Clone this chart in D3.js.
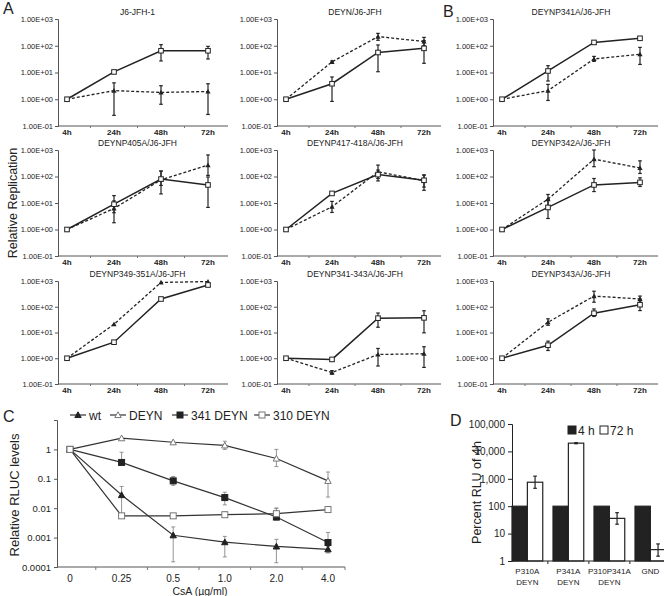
<!DOCTYPE html>
<html><head><meta charset="utf-8">
<script src="https://cdn.jsdelivr.net/npm/d3@7/dist/d3.min.js"></script>
<style>
body{margin:0;background:#fff;}
svg{display:block;font-family:"Liberation Sans",Arial,sans-serif;}
</style></head>
<body>
<svg id="c" width="664" height="596"></svg>
<script>
// ---------------- DATA ----------------
const timeLabels = ["4h","24h","48h","72h"];
const panelTitles = ["J6-JFH-1","DEYN/J6-JFH","DEYNP341A/J6-JFH","DEYNP405A/J6-JFH","DEYNP417-418A/J6-JFH","DEYNP342A/J6-JFH","DEYNP349-351A/J6-JFH","DEYNP341-343A/J6-JFH","DEYNP343A/J6-JFH"];
const yTickValuesAB = [0.1,1,10,100,1000];
const yTickLabelsAB = ["1.00E-01","1.00E+00","1.00E+01","1.00E+02","1.00E+03"];

const solidValues = [
 [1,10.5,65,65],[1,3.8,56,80],[1,11.4,133,190],
 [1,9,80,48],[1,23,118,72],[1,6.8,48,60],
 [1,4.2,200,700],[1,0.9,36,37],[1,3.2,56,120]];
const solidErrHigh = [
 [null,11.5,110,95],[null,6.8,107,155],[null,18,150,210],
 [null,19,160,96],[null,25,175,112],[null,13.5,84,89],
 [null,null,null,null],[null,1.0,57,70],[null,4.6,82,200]];
const solidErrLow = [
 [null,9.5,27,32],[null,0.83,10.7,22],[null,4.8,118,175],
 [null,4.3,22,6.8],[null,21,68,30],[null,2.6,27,42],
 [null,null,null,null],[null,0.8,16,9.7],[null,2,42,71]];
const dashedValues = [
 [1,2.1,1.8,1.95],[1,25,220,145],[1,2.1,32,48],
 [1,6.2,75,270],[1,7.2,150,70],[1,14,450,210],
 [1,21,880,950],[1,0.28,1.4,1.5],[1,25,260,200]];
const dashedErrHigh = [
 [null,4.1,3.2,3.8],[null,27,290,205],[null,3.6,40,87],
 [null,12,160,650],[null,11.5,270,115],[null,21,1000,390],
 [null,null,null,null],[null,0.33,2.4,2.8],[null,34,400,260]];
const dashedErrLow = [
 [null,0.25,0.65,0.27],[null,23,160,100],[null,0.9,26,20],
 [null,1.8,46,110],[null,4.4,84,40],[null,6.6,235,130],
 [null,null,null,null],[null,0.24,0.5,0.44],[null,19,150,150]];

// Panel C
const doseLabels = ["0","0.25","0.5","1.0","2.0","4.0"];
const cSeriesNames = ["wt","DEYN","341 DEYN","310 DEYN"];
const wtValues   = [1,0.028,0.0012,0.0007,0.0005,0.0004];
const wtErrHigh  = [null,0.055,0.0023,0.0011,0.00087,0.0005];
const wtErrLow   = [null,0.005,0.00015,0.00022,0.00014,0.0003];
const deynValues = [1,2.4,1.75,1.37,0.49,0.085];
const deynErrHigh= [null,null,null,1.9,1.0,0.17];
const deynErrLow = [null,null,null,1.0,0.26,0.024];
const d341Values = [1,0.36,0.085,0.023,0.005,0.00068];
const d341ErrHigh= [null,0.8,0.12,0.035,0.01,0.0015];
const d341ErrLow = [null,0.36,0.06,0.013,0.004,0.0004];
const d310Values = [1,0.0055,0.0055,0.006,0.0065,0.009];
const d310ErrHigh= [null,null,null,0.0075,0.01,0.011];
const d310ErrLow = [null,null,null,0.005,0.004,0.0075];
const cYTicks = [0.0001,0.001,0.01,0.1,1];
const cYTickLabels = ["0.0001","0.001","0.01","0.1","1"];

// Panel D
const dGroups = ["P310A DEYN","P341A DEYN","P310P341A DEYN","GND"];
const dGroupLines = [["P310A","DEYN"],["P341A","DEYN"],["P310P341A","DEYN"],["GND"]];
const dSeries = ["4 h","72 h"];
const h4Values = [100,100,100,100];
const h72Values = [750,20000,36,2.6];
const h72ErrHigh = [1250,21000,58,4.2];
const h72ErrLow = [450,19000,22,1.5];
const dYTicks = [1,10,100,1000,10000,100000];

// ---------------- LAYOUT ----------------
const svg = d3.select("#c");
const ink = "#222";
const rows = [{top:19,bot:126},{top:150,bot:256},{top:281,bot:384}];
const cols = [{ax:58,x0:67,x1:208,end:228},{ax:277,x0:286,x1:424,end:441},{ax:493,x0:502,x1:640,end:658}];

function triPath(cx,cy,s){return `M${cx},${cy-s}L${cx+s},${cy+s*0.8}L${cx-s},${cy+s*0.8}Z`;}

function errBar(g,x,yHi,yLo,cap,color,w){
  g.append("line").attr("x1",x).attr("x2",x).attr("y1",yHi).attr("y2",yLo).attr("stroke",color).attr("stroke-width",w);
  g.append("line").attr("x1",x-cap).attr("x2",x+cap).attr("y1",yHi).attr("y2",yHi).attr("stroke",color).attr("stroke-width",w);
  g.append("line").attr("x1",x-cap).attr("x2",x+cap).attr("y1",yLo).attr("y2",yLo).attr("stroke",color).attr("stroke-width",w);
}

panelTitles.forEach((title,i)=>{
  const r = rows[Math.floor(i/3)], c = cols[i%3];
  const g = svg.append("g");
  const x = d3.scalePoint().domain(timeLabels).range([c.x0,c.x1]);
  const y = d3.scaleLog().domain([0.1,1000]).range([r.bot,r.top]);
  const ya = d3.axisLeft(y).tickValues(yTickValuesAB).tickFormat((d,k)=>yTickLabelsAB[k]).tickSize(3).tickPadding(2);
  const yg = g.append("g").attr("transform",`translate(${c.ax},0)`).call(ya);
  yg.select(".domain").attr("stroke","#555");
  yg.selectAll(".tick line").attr("stroke","#555");
  yg.selectAll("text").attr("font-size",7.5).attr("fill",ink);
  g.append("line").attr("x1",c.ax).attr("x2",c.end).attr("y1",r.bot).attr("y2",r.bot).attr("stroke","#555");
  timeLabels.forEach((t,k)=>{
    g.append("text").attr("x",x(t)).attr("y",r.bot+9).attr("text-anchor","middle").attr("font-size",8).attr("fill",ink).attr("font-weight","bold").text(t);
    if(k<3){const mx=(x(t)+x(timeLabels[k+1]))/2;
      g.append("line").attr("x1",mx).attr("x2",mx).attr("y1",r.bot).attr("y2",r.bot+2).attr("stroke","#777");}
  });
  g.append("text").attr("x",(c.x0+c.x1)/2).attr("y",r.top-4).attr("text-anchor","middle").attr("font-size",8.5).attr("fill",ink).text(title);
  const line = d3.line().x((d,k)=>x(timeLabels[k])).y(d=>y(d));
  g.append("path").attr("d",line(dashedValues[i])).attr("fill","none").attr("stroke",ink).attr("stroke-width",1.3).attr("stroke-dasharray","3,2");
  g.append("path").attr("d",line(solidValues[i])).attr("fill","none").attr("stroke",ink).attr("stroke-width",1.5);
  timeLabels.forEach((t,k)=>{
    if(dashedErrHigh[i][k]!=null) errBar(g,x(t),y(dashedErrHigh[i][k]),y(dashedErrLow[i][k]),1.8,ink,1.2);
    if(solidErrHigh[i][k]!=null) errBar(g,x(t),y(solidErrHigh[i][k]),y(solidErrLow[i][k]),1.8,ink,1.2);
  });
  dashedValues[i].forEach((v,k)=>{
    g.append("path").attr("d",triPath(x(timeLabels[k]),y(v),2.6)).attr("fill",ink);
  });
  solidValues[i].forEach((v,k)=>{
    g.append("rect").attr("x",x(timeLabels[k])-2.3).attr("y",y(v)-2.3).attr("width",4.6).attr("height",4.6).attr("fill","#fff").attr("stroke",ink).attr("stroke-width",1);
  });
});

[["A",3,14],["B",443,17],["C",3,422],["D",450,426]].forEach(([t,lx,ly])=>{
  svg.append("text").attr("x",lx).attr("y",ly).attr("font-size",16).attr("fill",ink).text(t);
});
svg.append("text").attr("transform","translate(17,203) rotate(-90)").attr("text-anchor","middle").attr("font-size",12.5).attr("fill",ink).text("Relative Replication");

// ---------------- PANEL C ----------------
{
  const g = svg.append("g");
  const x = d3.scalePoint().domain(doseLabels).range([70,328]);
  const y = d3.scaleLog().domain([0.0001,10]).range([567,420]);
  const ya = d3.axisLeft(y).tickValues(cYTicks.concat([10])).tickFormat(d=>{const k=cYTicks.indexOf(d);return k<0?"":cYTickLabels[k];}).tickSize(3).tickPadding(3);
  const yg = g.append("g").attr("transform","translate(57,0)").call(ya);
  yg.select(".domain").attr("stroke","#555");
  yg.selectAll(".tick line").attr("stroke","#555");
  yg.selectAll("text").attr("font-size",9.5).attr("fill",ink);
  g.append("line").attr("x1",57).attr("x2",345).attr("y1",567).attr("y2",567).attr("stroke","#555");
  doseLabels.forEach((t,k)=>{
    g.append("text").attr("x",x(t)).attr("y",582).attr("text-anchor","middle").attr("font-size",10).attr("fill",ink).text(t);
    const mx = k<5 ? (x(t)+x(doseLabels[k+1]))/2 : 345;
    g.append("line").attr("x1",mx).attr("x2",mx).attr("y1",567).attr("y2",570).attr("stroke","#777");
  });
  g.append("text").attr("x",200).attr("y",595).attr("text-anchor","middle").attr("font-size",10.5).attr("fill",ink).text("CsA (µg/ml)");
  g.append("text").attr("transform","translate(19,495) rotate(-90)").attr("text-anchor","middle").attr("font-size",13).attr("fill",ink).text("Relative RLUC levels");

  const series = [
    {v:wtValues,hi:wtErrHigh,lo:wtErrLow,m:"tri",fill:ink,stroke:ink},
    {v:deynValues,hi:deynErrHigh,lo:deynErrLow,m:"tri",fill:"#fff",stroke:"#777"},
    {v:d341Values,hi:d341ErrHigh,lo:d341ErrLow,m:"sq",fill:ink,stroke:ink},
    {v:d310Values,hi:d310ErrHigh,lo:d310ErrLow,m:"sq",fill:"#fff",stroke:"#777"}];
  const line = d3.line().x((d,k)=>x(doseLabels[k])).y(d=>y(d));
  function marker(gg,m,cx,cy,fill,stroke){
    if(m==="tri") gg.append("path").attr("d",triPath(cx,cy,3.2)).attr("fill",fill).attr("stroke",stroke).attr("stroke-width",1);
    else gg.append("rect").attr("x",cx-3).attr("y",cy-3).attr("width",6).attr("height",6).attr("fill",fill).attr("stroke",stroke).attr("stroke-width",1);
  }
  series.forEach(s=>{
    g.append("path").attr("d",line(s.v)).attr("fill","none").attr("stroke","#333").attr("stroke-width",1.2);
  });
  series.forEach(s=>{
    s.v.forEach((v,k)=>{ if(s.hi[k]!=null) errBar(g,x(doseLabels[k]),y(s.hi[k]),y(s.lo[k]),2,"#888",0.9); });
  });
  series.forEach(s=>{ s.v.forEach((v,k)=>marker(g,s.m,x(doseLabels[k]),y(v),s.fill,s.stroke)); });
  const lx = [70,110,172,254];
  cSeriesNames.forEach((n,k)=>{
    const s = series[k];
    g.append("line").attr("x1",lx[k]).attr("x2",lx[k]+16).attr("y1",415).attr("y2",415).attr("stroke","#333").attr("stroke-width",1.2);
    marker(g,s.m,lx[k]+8,415,s.fill,s.stroke);
    g.append("text").attr("x",lx[k]+19).attr("y",419.5).attr("font-size",12).attr("fill",ink).text(n);
  });
}

// ---------------- PANEL D ----------------
{
  const g = svg.append("g");
  const ax = 512, yTop = 424, yBot = 561, xEnd = 665.75;
  const x = d3.scaleBand().domain(dGroups).range([ax,xEnd]).paddingInner(0.25).paddingOuter(0);
  const x1 = d3.scaleBand().domain(dSeries).range([0,x.bandwidth()]);
  const y = d3.scaleLog().domain([1,100000]).range([yBot,yTop]);
  const ya = d3.axisLeft(y).tickValues(dYTicks).tickFormat(d3.format(",")).tickSize(4).tickPadding(3);
  const yg = g.append("g").attr("transform",`translate(${ax},0)`).call(ya);
  yg.select(".domain").attr("stroke",ink);
  yg.selectAll(".tick line").attr("stroke",ink);
  yg.selectAll("text").attr("font-size",10).attr("fill",ink);
  const bars = [{v:h4Values,fill:ink},{v:h72Values,fill:"#fff"}];
  bars.forEach((b,si)=>{
    b.v.forEach((v,k)=>{
      g.append("rect").attr("x",x(dGroups[k])+x1(dSeries[si])).attr("width",x1.bandwidth()).attr("y",y(v)).attr("height",yBot-y(v)).attr("fill",b.fill).attr("stroke",ink).attr("stroke-width",1.2);
    });
  });
  h72Values.forEach((v,k)=>{
    errBar(g,x(dGroups[k])+x1("72 h")+x1.bandwidth()/2,y(h72ErrHigh[k]),y(h72ErrLow[k]),1.8,ink,1.2);
  });
  g.append("line").attr("x1",ax).attr("x2",664).attr("y1",yBot).attr("y2",yBot).attr("stroke",ink).attr("stroke-width",1.2);
  dGroups.forEach((d,k)=>{
    const bx = x(d)+x.bandwidth()+x.step()*x.paddingInner()/2;
    if(k<3) g.append("line").attr("x1",bx).attr("x2",bx).attr("y1",yBot).attr("y2",yBot+3).attr("stroke",ink);
    dGroupLines[k].forEach((ln,j)=>{
      g.append("text").attr("x",x(d)+x.bandwidth()/2).attr("y",yBot+13+j*11).attr("text-anchor","middle").attr("font-size",8).attr("fill",ink).text(ln);
    });
  });
  g.append("text").attr("transform",`translate(481,${(yTop+yBot)/2}) rotate(-90)`).attr("text-anchor","middle").attr("font-size",12.5).attr("fill",ink).text("Percent RLU of 4h");
  const legX = [568,600];
  dSeries.forEach((s,k)=>{
    g.append("rect").attr("x",legX[k]).attr("y",426).attr("width",8).attr("height",8).attr("fill",bars[k].fill).attr("stroke",ink).attr("stroke-width",1);
    g.append("text").attr("x",legX[k]+10).attr("y",434.5).attr("font-size",12).attr("fill",ink).text(s);
  });
}
</script>
</body></html>
